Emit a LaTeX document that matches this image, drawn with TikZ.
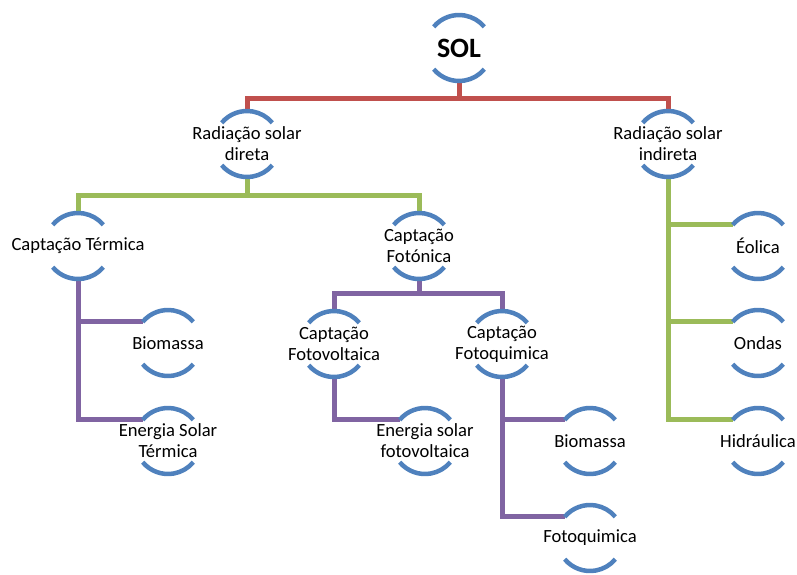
\documentclass[tikz,border=0pt]{standalone}
\usepackage{fontspec}
\setmainfont{Carlito}
\usetikzlibrary{calc}
\definecolor{arcblue}{HTML}{4F81BD}
\definecolor{lred}{HTML}{C0504D}
\definecolor{lgreen}{HTML}{9BBB59}
\definecolor{lpurple}{HTML}{8064A2}
\begin{document}
\begin{tikzpicture}[x=1pt,y=1pt,
  item/.style={rectangle,minimum width=66,minimum height=68,inner sep=0,align=center,font=\fontsize{18.6}{21}\selectfont},
  arcline/.style={draw=arcblue,line width=4.5},
  conn/.style={line width=5,line join=miter}]
\useasboundingbox (0,0) rectangle (797,-574);
% nodes
\node[item,font=\fontsize{28}{32}\selectfont\bfseries] (sol) at (459,-48) {SOL};
\node[item] (dir) at (247,-144) {Radiação solar\\direta};
\node[item] (ind) at (668,-144) {Radiação solar\\indireta};
\node[item] (cterm) at (78,-246) {Captação Térmica};
\node[item] (cfoto) at (419,-246) {Captação\\Fotónica};
\node[item] (eol) at (758,-246) {Éolica};
\node[item] (bio1) at (168,-343) {Biomassa};
\node[item] (cfv) at (334,-344) {Captação\\Fotovoltaica};
\node[item] (cfq) at (502,-344) {Captação\\Fotoquimica};
\node[item] (ond) at (758,-343) {Ondas};
\node[item] (est) at (168,-441) {Energia Solar\\Térmica};
\node[item] (esf) at (425,-441) {Energia solar\\fotovoltaica};
\node[item] (bio2) at (590,-441) {Biomassa};
\node[item] (hid) at (758,-441) {Hidráulica};
\node[item] (fq) at (590,-538) {Fotoquimica};
% connectors
\draw[conn,lred] (sol.south) -- ++(0,-16) -| (dir.north);
\draw[conn,lred] (sol.south) -- ++(0,-16) -| (ind.north);
\draw[conn,lgreen] (dir.south) -- ++(0,-17) -| (cterm.north);
\draw[conn,lgreen] (dir.south) -- ++(0,-17) -| (cfoto.north);
\draw[conn,lgreen] (ind.south) |- ($(eol.center)+(140:33)$);
\draw[conn,lgreen] (ind.south) |- ($(ond.center)+(140:33)$);
\draw[conn,lgreen] (ind.south) |- ($(hid.center)+(140:33)$);
\draw[conn,lpurple] (cterm.south) |- ($(bio1.center)+(140:33)$);
\draw[conn,lpurple] (cterm.south) |- ($(est.center)+(140:33)$);
\draw[conn,lpurple] (cfoto.south) -- ++(0,-13) -| (cfv.north);
\draw[conn,lpurple] (cfoto.south) -- ++(0,-13) -| (cfq.north);
\draw[conn,lpurple] (cfv.south) |- ($(esf.center)+(140:33)$);
\draw[conn,lpurple] (cfq.south) |- ($(bio2.center)+(140:33)$);
\draw[conn,lpurple] (cfq.south) |- ($(fq.center)+(140:33)$);
% arcs
\foreach \n in {sol,dir,ind,cterm,cfoto,eol,bio1,cfv,cfq,ond,est,esf,bio2,hid,fq}{
  \draw[arcline] ($(\n.center)+(140:33)$) arc[start angle=140,end angle=40,radius=33];
  \draw[arcline] ($(\n.center)+(220:33)$) arc[start angle=220,end angle=320,radius=33];
}
\end{tikzpicture}
\end{document}
